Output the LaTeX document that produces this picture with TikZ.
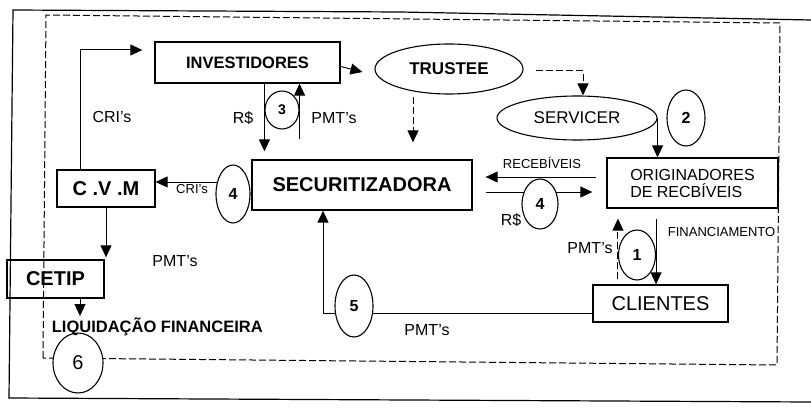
\documentclass[tikz,border=0pt]{standalone}
\usepackage{fontspec}
\setmainfont{Liberation Sans}
\usetikzlibrary{arrows.meta,shapes.geometric,backgrounds}
\begin{document}
\begin{tikzpicture}[x=1pt,y=-1pt,
 line width=1.1pt,
 box/.style={draw,rectangle,inner sep=0pt,fill=white,line width=1.3pt},
 oval/.style={draw,ellipse,inner sep=0pt,fill=white},
 arr/.style={-{Triangle[length=12pt,width=11pt]},line width=1pt},
 dsh/.style={dash pattern=on 7pt off 3pt,line width=1pt},
 lbl/.style={font=\fontsize{16}{18}\selectfont},
 small/.style={font=\fontsize{13}{15}\selectfont},
 numb/.style={font=\bfseries\fontsize{16}{18}\selectfont},
]
\useasboundingbox (0,0) rectangle (811,409);

% nodes
\node[box,minimum width=185pt,minimum height=41pt,font=\bfseries\fontsize{16.5}{18}\selectfont] (inv) at (247.5,62.5) {INVESTIDORES};
\node[oval,minimum width=148pt,minimum height=50pt,font=\bfseries\fontsize{17}{19}\selectfont] (tru) at (449,69) {TRUSTEE};
\node[oval,minimum width=160pt,minimum height=44pt,font=\fontsize{17}{19}\selectfont] (serv) at (577,118) {SERVICER};
\node[oval,numb,minimum width=38pt,minimum height=56pt] (e2) at (686,118) {2};
\node[box,minimum width=171pt,minimum height=50pt,font=\fontsize{16}{17}\selectfont,align=left] (orig) at (692.5,183) {ORIGINADORES\\DE RECBÍVEIS};
\node[box,minimum width=220pt,minimum height=50pt,font=\bfseries\fontsize{20}{22}\selectfont] (sec) at (362,185) {SECURITIZADORA};
\node[box,minimum width=98pt,minimum height=37pt,font=\bfseries\fontsize{20}{22}\selectfont] (cvm) at (106,188.5) {C .V .M};
\node[oval,numb,minimum width=34pt,minimum height=58pt] (e4l) at (233,194) {4};
\node[oval,numb,minimum width=36pt,minimum height=50pt] (e4r) at (540,204) {4};
\node[oval,font=\bfseries\fontsize{14}{16}\selectfont,minimum width=34pt,minimum height=38pt] (e3) at (282,110) {3};
\node[draw,rectangle,line width=1.3pt,inner sep=0pt,minimum width=97pt,minimum height=38pt,font=\bfseries\fontsize{20}{22}\selectfont] (cetip) at (55.5,279) {CETIP};
\node[oval,minimum width=50pt,minimum height=60pt,font=\fontsize{20}{22}\selectfont] (e6) at (78,363) {6};
\node[oval,numb,minimum width=38pt,minimum height=62pt] (e5) at (354,306) {5};
\node[oval,numb,minimum width=37pt,minimum height=50pt] (e1) at (637,255) {1};
\node[box,minimum width=135pt,minimum height=37pt,font=\fontsize{20}{22}\selectfont] (cli) at (660.5,303.5) {CLIENTES};

% labels
\node[lbl] (lcri) at (112,117) {CRI's};
\node[lbl] (lrs1) at (243,118) {R\$};
\node[lbl] (lpmt1) at (334,118) {PMT's};
\node[small] (lcri2) at (192,189) {CRI's};
\node[small] (lrec) at (542,163) {RECEBÍVEIS};
\node[lbl] (lrs2) at (511,220) {R\$};
\node[lbl] (lpmt2) at (590,248) {PMT's};
\node[small,anchor=west] (lfin) at (664,232) {FINANCIAMENTO};
\node[lbl] (lpmt3) at (175,261) {PMT's};
\node[lbl] (lpmt4) at (427,330) {PMT's};
\node[font=\bfseries\fontsize{16.5}{18}\selectfont,anchor=west] (lliq) at (48,327) {LIQUIDAÇÃO FINANCEIRA};

\begin{scope}[on background layer]
 % outer frame
 \coordinate (f1) at (811,20);
 \coordinate (f2) at (13,10);
 \coordinate (f3) at (9,398);
 \coordinate (f4) at (811,402);
 \draw[line width=1.2pt] (f1) -- (400,12) -- (f2) -- (f3) -- (f4);
 % dashed frame
 \coordinate (d1) at (46,15);
 \coordinate (d2) at (780,23);
 \coordinate (d3) at (777,365);
 \coordinate (d4) at (43,358);
 \draw[dsh] (d4) -- (d1) -- (d2) -- (d3) -- cycle;

 % connectors
 \draw[arr] ([xshift=-26pt]cvm.north) |- ([shift={(-12pt,12.5pt)}]inv.west);
 \draw[arr] ([yshift=-4pt]inv.east) -- ([shift={(-12pt,-3pt)}]tru.west);
 \draw[arr] (e3.west |- inv.south) -- ([yshift=8pt]e3.west |- sec.north);
 \draw[arr] ([yshift=20pt]e3.east |- sec.north) -- (e3.east |- inv.south);
 \coordinate (t1) at (413,97);
 \draw[arr,dsh] (t1) -- ([yshift=17pt]t1 |- sec.north);
 \draw[arr,dsh] ([shift={(12pt,-2pt)}]tru.east) -| ([xshift=6pt]serv.north);
 \draw[arr] (serv.east) -- (serv.east |- orig.north);
 \draw[arr] ([shift={(2pt,12pt)}]e4l.west) -- ([yshift=12pt]cvm.east |- e4l.west);
 \draw[arr] ([shift={(-10pt,6pt)}]orig.west) -- ([shift={(13pt,8pt)}]sec.east);
 \draw[arr] ([shift={(13pt,-7pt)}]sec.east) -- ([shift={(-14pt,-9pt)}]orig.west);
 \draw[arr] ([yshift=-10pt]e1.east |- orig.south) -- (e1.east |- cli.north);
 \draw[arr,dsh] ([yshift=5pt]e1.west |- cli.north) -- ([yshift=-10pt]e1.west |- orig.south);
 \draw[arr] ([yshift=-9.5pt]cli.west) -| ([xshift=-39pt]sec.south);
 \draw[arr] (cvm.south) -- ([yshift=2pt]cvm.south |- cetip.north);
 \coordinate (c1) at (80,316);
 \draw[arr] (c1 |- cetip.south) -- (c1);
\end{scope}
\end{tikzpicture}
\end{document}
